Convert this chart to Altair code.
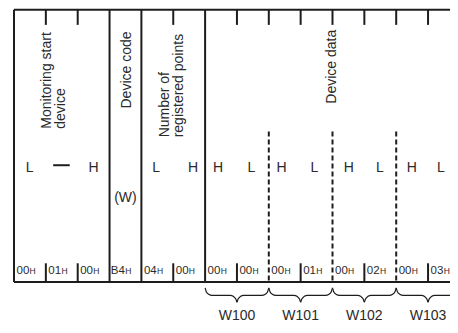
import altair as alt
import pandas as pd

# ---------------- data ----------------
HEX_BYTES = ["00", "01", "00", "B4", "04", "00", "00", "00", "00", "01", "00", "02", "00", "03"]
FULL_COLS = [0, 3, 4, 6]
TOP_TICK_COLS = [1, 2, 5, 7, 8, 9, 10, 11, 12, 13]
BOTTOM_TICK_COLS = [1, 2, 5, 7, 9, 11, 13]
DASHED_COLS = [8, 10, 12]
LH_LABELS = ["L", "H", "L", "H", "H", "L", "H", "L", "H", "L", "H", "L"]
LH_COLS = [0.49, 2.5, 4.46, 5.62, 6.41, 7.45, 8.4, 9.43, 10.51, 11.49, 12.49, 13.4]
WORD_LABELS = ["W100", "W101", "W102", "W103"]
WORD_FIRST_COLS = [6, 8, 10, 12]
FIELD_LINES = ["Monitoring start", "device", "Device code", "Number of",
               "registered points", "Device data"]
FIELD_LINE_COLS = [1.17, 1.6, 3.66, 4.86, 5.32, 10.11]
FIELD_LINE_START = [128, 128, 107, 137, 137, 102]

# ---------------- layout ----------------
W, H = 442, 317
CELL_PX = 31.85
LEFT_PX = 6
X_DOMAIN = [-LEFT_PX / CELL_PX, (W - LEFT_PX) / CELL_PX]
Y_TOP, Y_BOT = 4.3, 287.6
TOP_TICK_END = 20
BOTTOM_TICK_START = 268
DASH_START = 131
LH_BASE = 173
HEX_BASE = 279.3
W_BASE = 327
FONT = "Liberation Sans"
LINE = "#1f1c1d"
TEXT = "#2a2a2a"
COL_END = X_DOMAIN[1] + 1

XS = alt.Scale(domain=X_DOMAIN, range=[0, W], nice=False, zero=False)
YS = alt.Scale(domain=[4, 327], range=[1.5, 312], nice=False, zero=False)


def ex(f="x"):
    return alt.X(f"{f}:Q", scale=XS, axis=None)


def ey(f="y"):
    return alt.Y(f"{f}:Q", scale=YS, axis=None)


# solid lines
rows = []
for c in FULL_COLS:
    rows.append(dict(x=c, x2=c, y=Y_TOP, y2=Y_BOT))
for yv in (Y_TOP, Y_BOT):
    rows.append(dict(x=0, x2=COL_END, y=yv, y2=yv))
for c in TOP_TICK_COLS:
    rows.append(dict(x=c, x2=c, y=Y_TOP, y2=TOP_TICK_END))
for c in BOTTOM_TICK_COLS:
    rows.append(dict(x=c, x2=c, y=BOTTOM_TICK_START, y2=Y_BOT))
rows.append(dict(x=1.23, x2=1.75, y=166, y2=166))
solid = alt.Chart(pd.DataFrame(rows)).mark_rule(strokeWidth=2, color=LINE).encode(
    x=ex(), x2=alt.X2("x2:Q"), y=ey(), y2=alt.Y2("y2:Q"))

dashed = alt.Chart(pd.DataFrame(
    [dict(x=c, x2=c, y=DASH_START, y2=Y_BOT) for c in DASHED_COLS])).mark_rule(
    strokeWidth=2, color=LINE, strokeDash=[5, 3]).encode(
    x=ex(), x2=alt.X2("x2:Q"), y=ey(), y2=alt.Y2("y2:Q"))

# rotated field names
rot = alt.Chart(pd.DataFrame(dict(t=FIELD_LINES, x=FIELD_LINE_COLS, y=FIELD_LINE_START))).mark_text(
    angle=270, align="left", baseline="alphabetic", fontSize=14, font=FONT, color=TEXT).encode(
    x=ex(), y=ey(), text="t:N")

# L / H labels
lh = alt.Chart(pd.DataFrame(dict(t=LH_LABELS, x=LH_COLS, y=[LH_BASE] * len(LH_COLS)))).mark_text(
    align="center", baseline="alphabetic", fontSize=14, font=FONT, color=TEXT).encode(
    x=ex(), y=ey(), text="t:N")

wlabel = alt.Chart(pd.DataFrame(dict(t=["(W)"], x=[3.5], y=[204]))).mark_text(
    align="center", baseline="alphabetic", fontSize=14, font=FONT, color=TEXT).encode(
    x=ex(), y=ey(), text="t:N")

# hex bytes
hex_df = pd.DataFrame(dict(t=HEX_BYTES, x=[i + 0.48 for i in range(len(HEX_BYTES))],
                           y=[HEX_BASE] * len(HEX_BYTES), h=["H"] * len(HEX_BYTES)))
hex_digits = alt.Chart(hex_df).mark_text(
    align="right", baseline="alphabetic", fontSize=11.5, font=FONT, color=TEXT).encode(
    x=ex(), y=ey(), text="t:N")
hex_suffix = alt.Chart(hex_df).mark_text(
    align="left", baseline="alphabetic", fontSize=8.5, font=FONT, color=TEXT, dx=0.3).encode(
    x=ex(), y=ey(), text="h:N")

# braces
HALF = [(0, 293.5), (1.2, 297.5), (3.5, 300.2), (7, 301.4), (25.0, 301.4),
        (28.5, 302.6), (30.7, 305.2), (31.85, 308.5)]
brows = []
for gi, c0 in enumerate(WORD_FIRST_COLS):
    for k, (dx, yv) in enumerate(HALF):
        brows.append(dict(g=f"{gi}a", i=k, x=c0 + dx / CELL_PX, y=yv))
    for k, (dx, yv) in enumerate(reversed(HALF)):
        brows.append(dict(g=f"{gi}b", i=k, x=c0 + (2 * CELL_PX - dx) / CELL_PX, y=yv))
braces = alt.Chart(pd.DataFrame(brows)).mark_line(
    strokeWidth=1.2, color=LINE, interpolate="monotone").encode(
    x=ex(), y=ey(), detail="g:N", order="i:Q")

words = alt.Chart(pd.DataFrame(dict(t=WORD_LABELS, x=[c + 1 for c in WORD_FIRST_COLS],
                                    y=[W_BASE] * 4))).mark_text(
    align="center", baseline="alphabetic", fontSize=14, font=FONT, color=TEXT).encode(
    x=ex(), y=ey(), text="t:N")

chart = alt.layer(solid, dashed, rot, lh, wlabel, hex_digits, hex_suffix, braces, words).properties(
    width=W, height=H, autosize="none", padding=0
).configure_view(stroke=None)

chart.save("out.html", embed_options={"renderer": "svg", "actions": False})
